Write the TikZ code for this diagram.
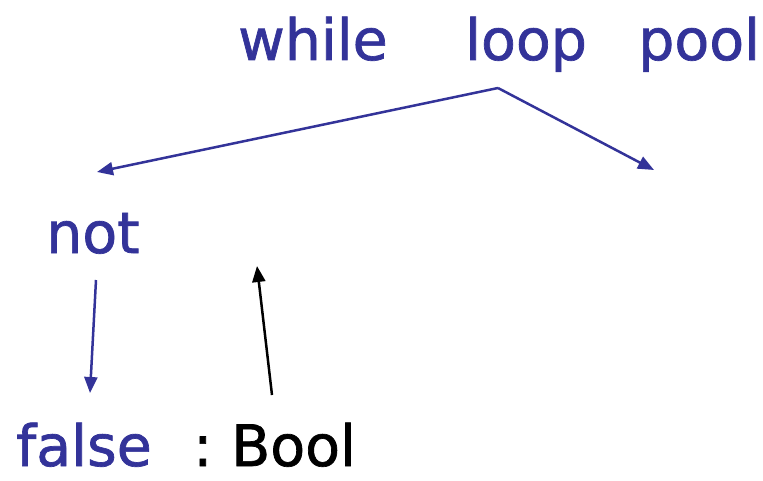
\documentclass[tikz,border=0pt]{standalone}
\usepackage{fontspec}
\setmainfont[FakeBold=1.2]{DejaVu Sans}
\usetikzlibrary{arrows.meta}
\definecolor{kblue}{HTML}{333399}
\tikzset{
  word/.style={anchor=base west, inner sep=0pt, font=\fontsize{57}{62}\selectfont},
  bw/.style={word, text=kblue},
  barrow/.style={draw=kblue, line width=2.5pt, -{Triangle[length=16pt,width=13pt]}},
  karrow/.style={draw=black, line width=2.5pt, -{Triangle[length=16pt,width=13pt]}}
}
\begin{document}
\begin{tikzpicture}[x=1pt,y=-1pt]
\useasboundingbox (0,0) rectangle (763,481);
\node[bw] (while) at (238,60) {while};
\node[bw] (loop) at (465,60) {loop};
\node[bw] (pool) at (638,60) {pool};
\node[bw] (not) at (46,253) {not};
\node[bw] (false) at (16,466) {false};
\node[word] (colon) at (193,466) {:};
\node[word] (bool) at (231,466) {Bool};
\coordinate (ls) at (498,88);
\coordinate (lt) at (97,172);
\coordinate (rt) at (654,170);
\coordinate (ns) at (96,280);
\coordinate (fs) at (90,393);
\coordinate (bs) at (272,395);
\coordinate (bt) at (257,266);
\draw[barrow] (ls) -- (lt);
\draw[barrow] (ls) -- (rt);
\draw[barrow] (ns) -- (fs);
\draw[karrow] (bs) -- (bt);
\end{tikzpicture}
\end{document}
